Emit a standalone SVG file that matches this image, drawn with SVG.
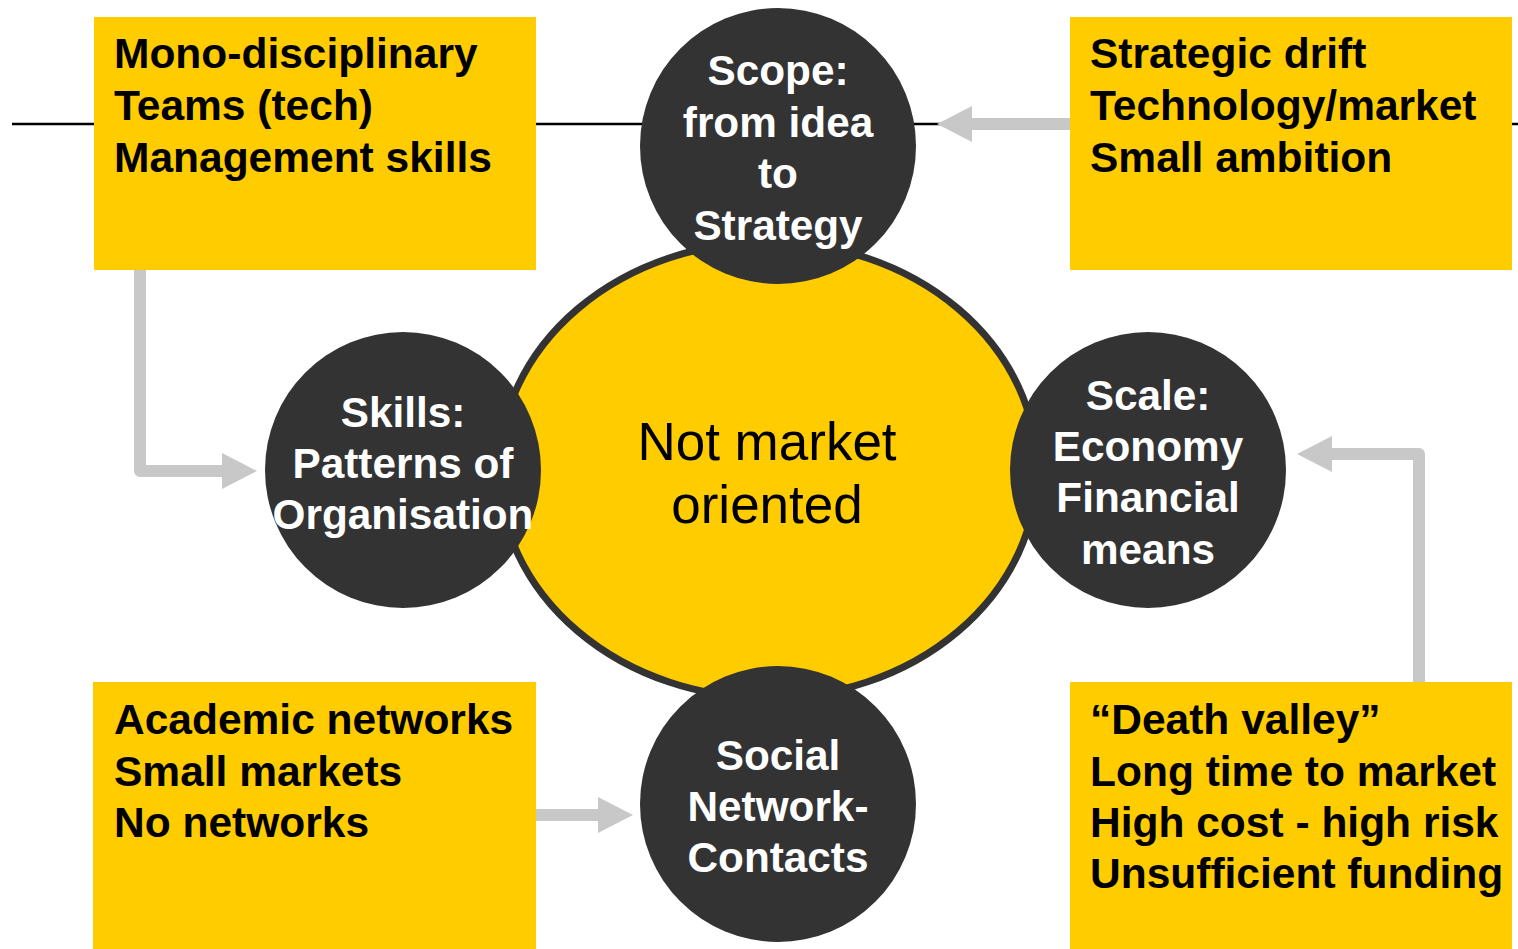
<svg xmlns="http://www.w3.org/2000/svg" width="1518" height="949" viewBox="0 0 1518 949">
<style>
.box{fill:#FFCC00}
.bt{font-family:"Liberation Sans",Arial,sans-serif;font-weight:bold;font-size:42.5px;fill:#000}
.ct{font-family:"Liberation Sans",Arial,sans-serif;font-weight:bold;font-size:42.3px;fill:#fff;text-anchor:middle}
.circ{fill:#333333}
.shaft{fill:none;stroke:#C8C8C8;stroke-width:12;stroke-linejoin:round}
.head{fill:#C8C8C8}
</style>
<rect width="1518" height="949" fill="#fff"/>
<line x1="12" y1="124" x2="1518" y2="124" stroke="#000" stroke-width="2.5"/>
<g id="box-top-left">
<rect class="box" x="94" y="17" width="442" height="253"/>
<text class="bt" x="114" y="68">Mono-disciplinary</text>
<text class="bt" x="114" y="120">Teams (tech)</text>
<text class="bt" x="114" y="172">Management skills</text>
</g>
<g id="box-top-right">
<rect class="box" x="1070" y="17" width="442" height="253"/>
<text class="bt" x="1090" y="68">Strategic drift</text>
<text class="bt" x="1090" y="120">Technology/market</text>
<text class="bt" x="1090" y="172">Small ambition</text>
</g>
<g id="box-bottom-left">
<rect class="box" x="93" y="682" width="443" height="267"/>
<text class="bt" x="114" y="734">Academic networks</text>
<text class="bt" x="114" y="786">Small markets</text>
<text class="bt" x="114" y="837">No networks</text>
</g>
<g id="box-bottom-right">
<rect class="box" x="1070" y="682" width="442" height="267"/>
<text class="bt" x="1090" y="734">“Death valley”</text>
<text class="bt" x="1090" y="786">Long time to market</text>
<text class="bt" x="1090" y="837">High cost - high risk</text>
<text class="bt" x="1090" y="888">Unsufficient funding</text>
</g>
<g id="connectors">
<path class="shaft" d="M1070,124 H972"/>
<polygon class="head" points="972,106 937,124 972,142"/>
<path class="shaft" d="M140,270 V471 H222"/>
<polygon class="head" points="222,453 257,471 222,489"/>
<path class="shaft" d="M1419,682 V454 H1332"/>
<polygon class="head" points="1332,436 1297,454 1332,472"/>
<path class="shaft" d="M536,815 H598"/>
<polygon class="head" points="598,797 633,815 598,833"/>
</g>
<g id="center">
<ellipse cx="768" cy="470" rx="269" ry="228" fill="#FFCC00" stroke="#333333" stroke-width="7"/>
<text x="767" y="460" font-family="Liberation Sans, Arial, sans-serif" font-size="53" fill="#000" text-anchor="middle">Not market</text>
<text x="767" y="523" font-family="Liberation Sans, Arial, sans-serif" font-size="53" fill="#000" text-anchor="middle">oriented</text>
</g>
<g id="scope">
<circle class="circ" cx="778" cy="146" r="138"/>
<text class="ct" x="778" y="85">Scope:</text>
<text class="ct" x="778" y="137">from idea</text>
<text class="ct" x="778" y="188">to</text>
<text class="ct" x="778" y="240">Strategy</text>
</g>
<g id="skills">
<circle class="circ" cx="403" cy="470" r="138"/>
<text class="ct" x="403" y="427">Skills:</text>
<text class="ct" x="403" y="478">Patterns of</text>
<text class="ct" x="403" y="529">Organisation</text>
</g>
<g id="scale">
<circle class="circ" cx="1148" cy="470" r="138"/>
<text class="ct" x="1148" y="410">Scale:</text>
<text class="ct" x="1148" y="461">Economy</text>
<text class="ct" x="1148" y="512">Financial</text>
<text class="ct" x="1148" y="564">means</text>
</g>
<g id="social">
<circle class="circ" cx="778" cy="804" r="138"/>
<text class="ct" x="778" y="770">Social</text>
<text class="ct" x="778" y="821">Network-</text>
<text class="ct" x="778" y="872">Contacts</text>
</g>
</svg>
